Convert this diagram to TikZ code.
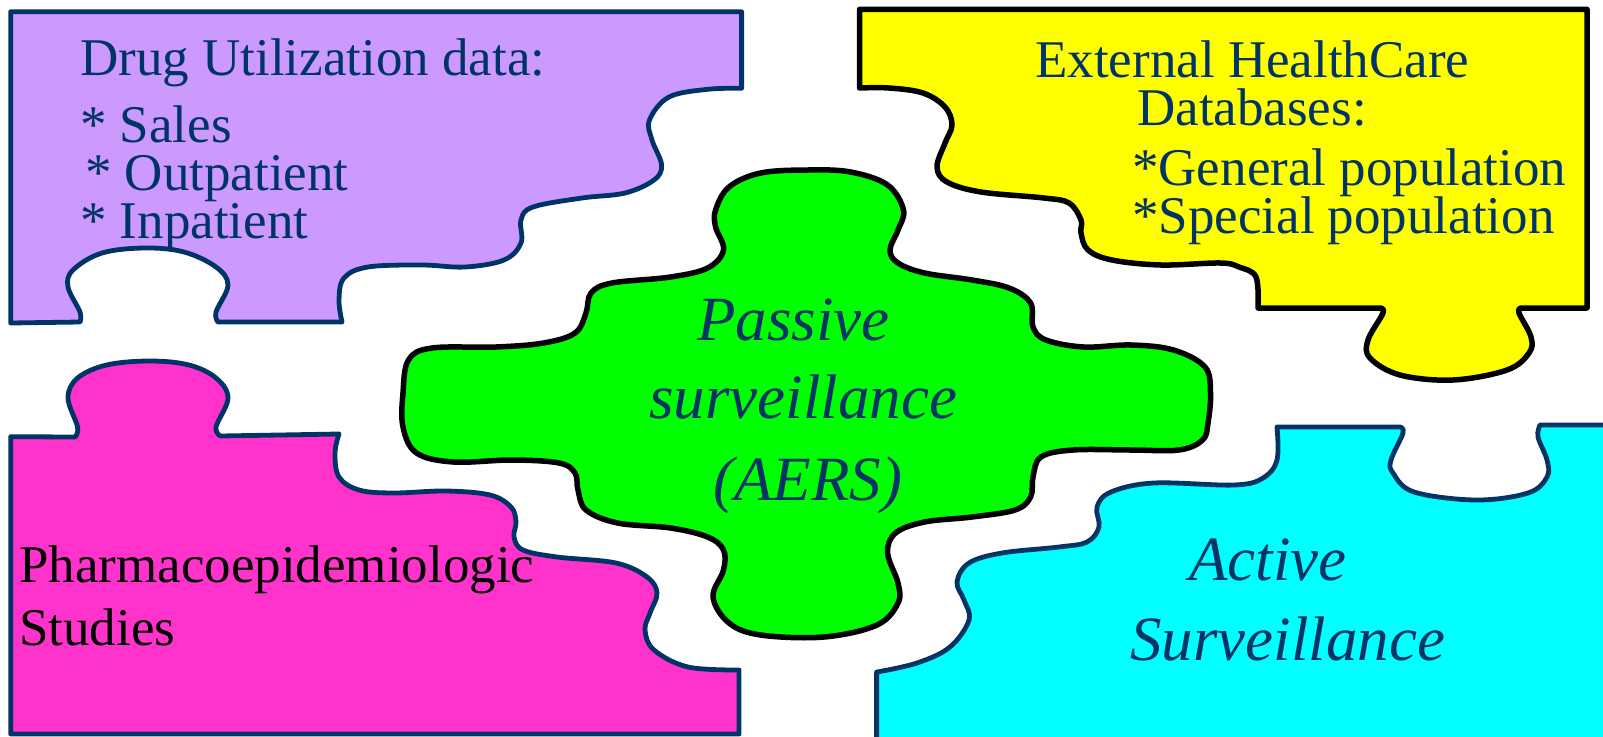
\documentclass[tikz,border=0pt]{standalone}
\usepackage{fontspec}
\setmainfont{Liberation Serif}
\definecolor{navy}{HTML}{003366}
\definecolor{lilac}{HTML}{CC99FF}
\definecolor{yel}{HTML}{FFFF00}
\definecolor{pinkp}{HTML}{FF33CC}
\definecolor{cyanp}{HTML}{00FFFF}
\definecolor{greenp}{HTML}{00FF00}
\tikzset{
  piece/.style={line width=4.8pt, draw=navy, line join=round},
  bpiece/.style={line width=5.5pt, draw=black, line join=round},
  txt/.style={anchor=base west, inner sep=0pt, text=navy, font=\fontsize{53}{60}\selectfont},
  itxt/.style={anchor=base west, inner sep=0pt, text=navy, font=\fontsize{63}{70}\selectfont\itshape},
}
\begin{document}
\begin{tikzpicture}[x=1pt,y=-1pt]
\useasboundingbox (0,0) rectangle (1603,736);
\fill[white] (0,0) rectangle (1603,736);

% purple
\path[piece, fill=lilac] (10.7,11.7) -- (741.6,11.7) -- (741.6,88.3)
 -- plot[smooth,tension=0.6] coordinates {(741.6,88.3) (707.7,89.3) (669,97) (649.5,120) (652,140) (661.6,165) (654,180) (625,193) (582,198) (533,207) (521,220) (521,243) (504,260) (465,267) (422,265) (368,267) (344,278) (339,300) (342,322)}
 -- (218,322)
 -- plot[smooth,tension=0.6] coordinates {(218,322) (216,312) (228,285) (216,267) (184,252) (145,248) (102,253) (73,270) (68,287) (80,312) (80,322)}
 -- (10.7,323) -- cycle;

% yellow
\path[bpiece, fill=yel] (859.5,9.3) -- (1587,9.3) -- (1587,308) -- (1521,308)
 -- plot[smooth,tension=0.6] coordinates {(1521,308) (1519,313) (1531,337) (1529,353) (1507,370) (1453,380) (1400,375) (1370,358) (1368,340) (1383,313) (1380,308)}
 -- (1258,308)
 -- plot[smooth,tension=0.6] coordinates {(1258,308) (1256,277) (1239,267) (1220,263) (1161,265) (1112,260) (1088,250) (1081,233) (1081,220) (1069,203) (1044,198) (981,192) (947,182) (937,167) (945,143) (952,125) (945,107) (923,93) (889,88) (859.5,88)}
 -- cycle;

% pink
\path[piece, fill=pinkp] (10.7,436.7) -- (75,437)
 -- plot[smooth,tension=0.6] coordinates {(75,437) (77.6,427) (68,398) (77.6,378) (106.6,365) (150,361) (189,365) (216,378) (228,398) (216,427) (220.5,436)}
 -- (339,434)
 -- plot[smooth,tension=0.6] coordinates {(339,434) (335,453) (339,477) (359,490) (393,493) (446,491) (490,495) (511,507) (516,522) (514,537) (523,550) (557,557) (616,563) (647,577) (657,593) (650,613) (645,630) (654,650) (688,667) (739,670)}
 -- (739,734) -- (10.7,734) -- cycle;

% cyan
\path[piece, fill=cyanp] (876.6,745) -- (876.6,672)
 -- plot[smooth,tension=0.6] coordinates {(877,672) (917,663) (950,647) (969,620) (964,600) (957,582) (969,563) (1002,553) (1059,547) (1087,542) (1099,527) (1097,507) (1111,492) (1154,483) (1234,485) (1263,478) (1277,460) (1277,427)}
 -- (1400,427)
 -- plot[smooth,tension=0.6] coordinates {(1400,427) (1403,433) (1391,460) (1393,473) (1414,492) (1476,500) (1528,493) (1547,477) (1547,460) (1538,437) (1540,425)}
 -- (1612,425) -- (1612,745) -- cycle;

% green
\path[bpiece, fill=greenp] plot[smooth cycle,tension=0.6] coordinates {(715.6,210) (729,187) (760.6,173) (808,170) (850.6,172) (887.6,185) (903.5,210) (898,230) (890,250) (898,263) (924.6,273) (972,280) (1009,288) (1030.6,303) (1033,327) (1046,340) (1083.5,347) (1131,345) (1173.5,350) (1205,367) (1210.5,393) (1208,423) (1202.6,440) (1179,450) (1131,450) (1073,450) (1041,457) (1033,477) (1030.6,497) (1015,510) (972,517) (924.6,522) (895.6,533) (887.6,553) (898,583) (898,603) (877,625) (824,637) (760.6,635) (729,623) (713,597) (723.5,570) (723.5,550) (707.6,537) (670.6,528) (617.6,523) (586,510) (578,490) (575,473) (559,463) (512,460) (453.5,462) (416.5,453) (403,427) (403,393) (408.5,360) (432,348) (496,347) (543.5,343) (575,333) (586,313) (591,293) (612,283) (670.6,277) (707.6,268) (723.5,250) (715.6,227)};

% texts
\node[txt] (p1) at (80,75) {Drug Utilization data:};
\node[txt] (p2) at (80,142) {* Sales};
\node[txt] (p3) at (85,190) {* Outpatient};
\node[txt] (p4) at (80,238) {* Inpatient};

\node[txt] (y1) at (1035,77) {External HealthCare};
\node[txt] (y2) at (1137,125) {Databases:};
\node[txt] (y3) at (1132,185) {*General population};
\node[txt] (y4) at (1132,233) {*Special population};

\node[itxt] (g1) at (697,340) {Passive};
\node[itxt] (g2) at (649,418) {surveillance};
\node[itxt] (g3) at (713,500) {(AERS)};

\node[txt, text=black] (k1) at (19,582) {Pharmacoepidemiologic};
\node[txt, text=black] (k2) at (19,645) {Studies};

\node[itxt] (c1) at (1189,580) {Active};
\node[itxt] (c2) at (1130,660) {Surveillance};
\end{tikzpicture}
\end{document}
